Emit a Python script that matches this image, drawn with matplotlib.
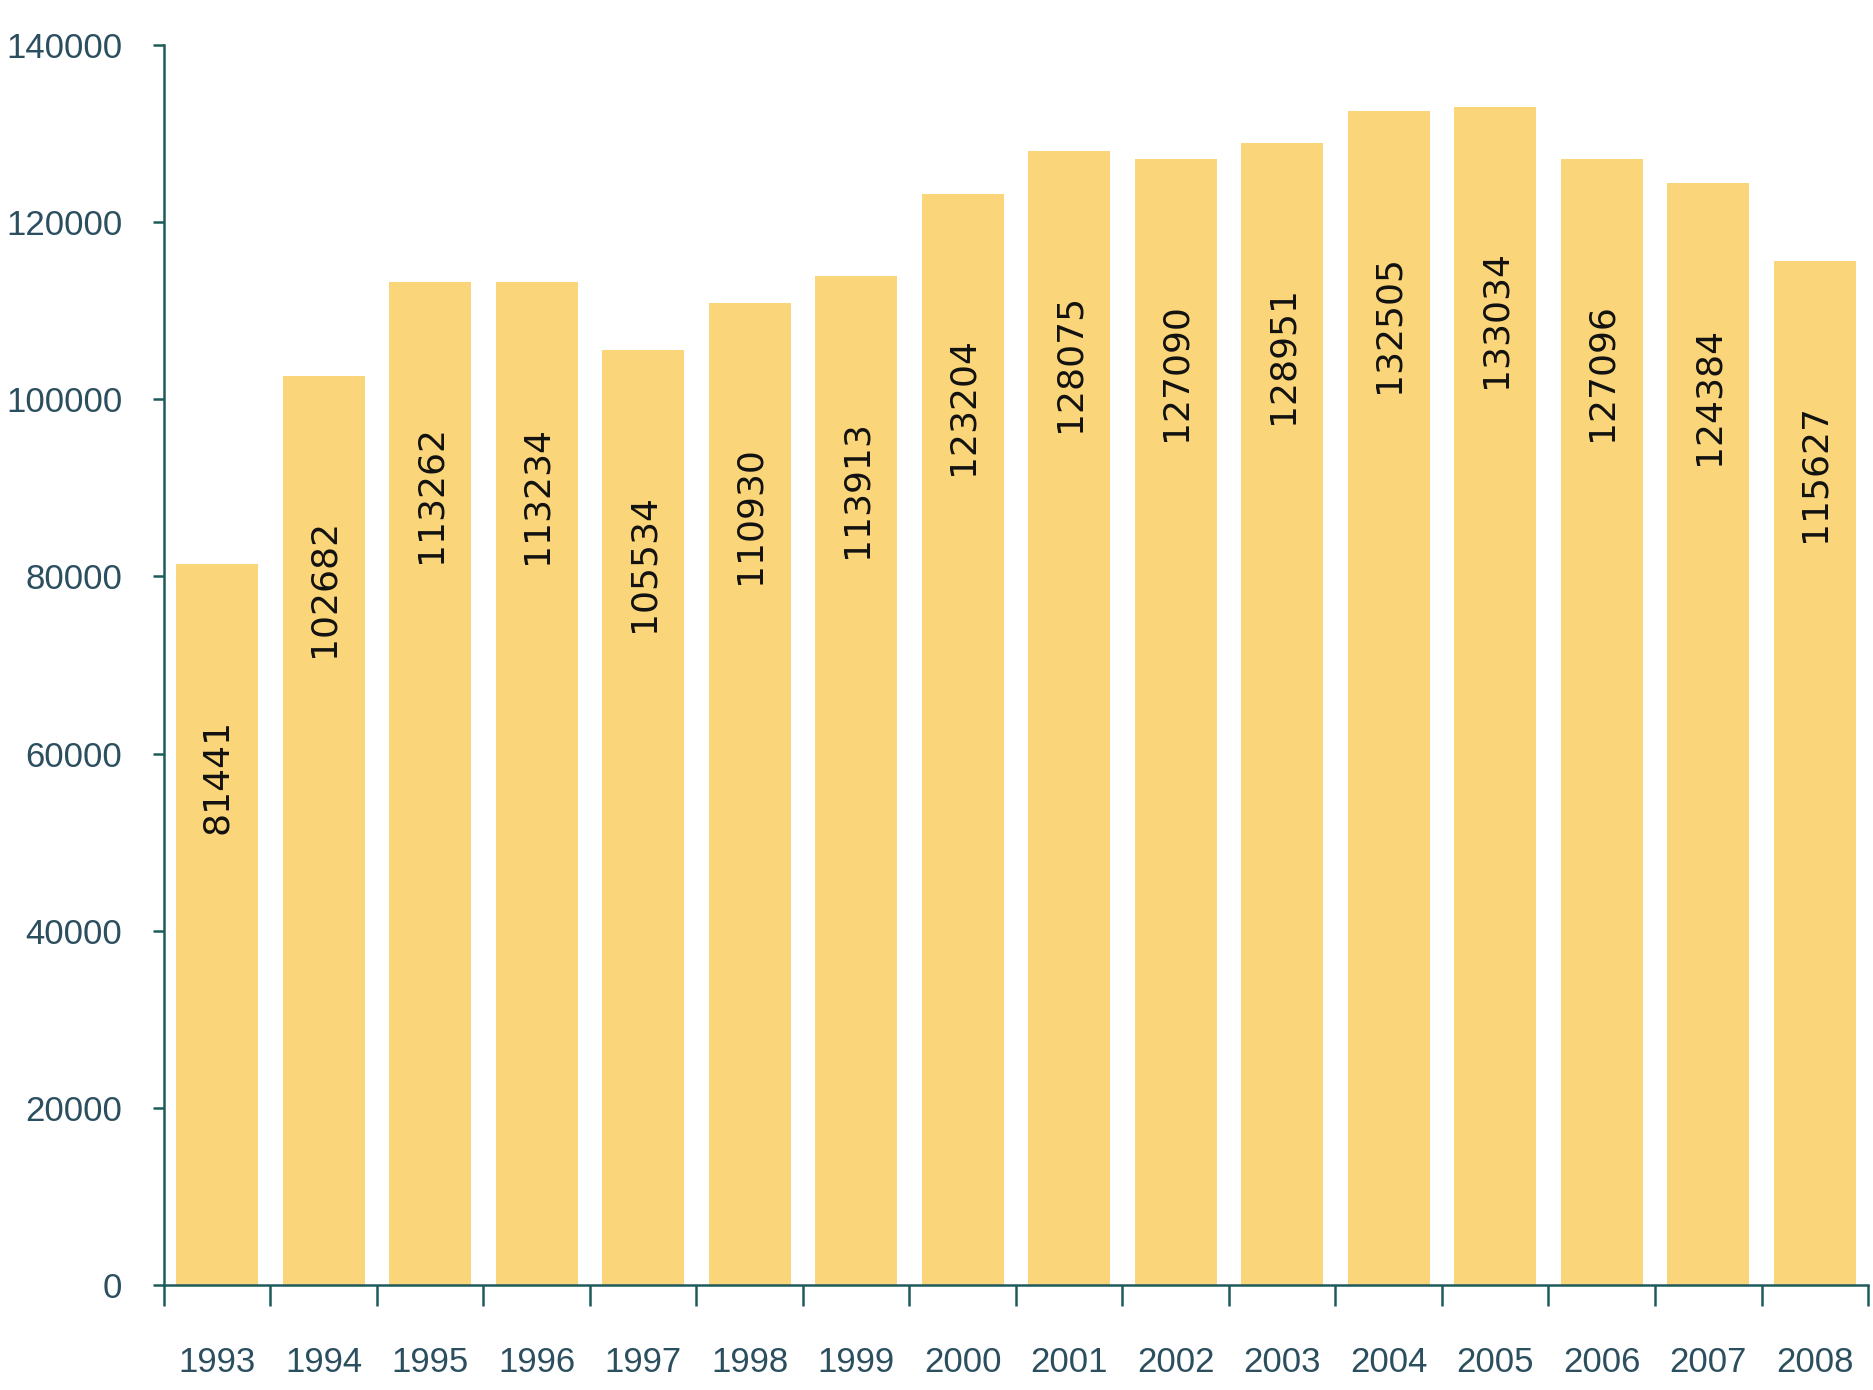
import matplotlib
matplotlib.use("Agg")
import matplotlib.pyplot as plt
import numpy as np

years = ["1993", "1994", "1995", "1996", "1997", "1998", "1999", "2000",
         "2001", "2002", "2003", "2004", "2005", "2006", "2007", "2008"]
values = [81441, 102682, 113262, 113234, 105534, 110930, 113913, 123204,
          128075, 127090, 128951, 132505, 133034, 127096, 124384, 115627]
yticks = [0, 20000, 40000, 60000, 80000, 100000, 120000, 140000]

tick_family = ["Liberation Sans", "DejaVu Sans"]
val_family = ["DejaVu Sans"]

bar_color = "#FBD57A"
axis_color = "#1E5A5C"
tick_color = "#2C4F60"

fig = plt.figure(figsize=(18.74, 13.9), dpi=100)
ax = fig.add_axes([0.0875, 0.0755, 0.9093, 0.8921])

x = np.arange(len(years))
ax.bar(x, values, width=0.77, color=bar_color, edgecolor="none", zorder=2)

for xi, v in zip(x, values):
    ax.text(xi, v - 24000, str(v), rotation=90, ha="center", va="center",
            fontsize=26, family=val_family, color="#111111", zorder=3)

ax.set_xlim(-0.5, len(years) - 0.5)
ax.set_ylim(0, 140000)

for s in ["top", "right"]:
    ax.spines[s].set_visible(False)
for s in ["left", "bottom"]:
    ax.spines[s].set_color(axis_color)
    ax.spines[s].set_linewidth(1.8)

ax.set_yticks(yticks)
ax.set_yticklabels([str(t) for t in yticks], family=tick_family, fontsize=25, color=tick_color)
ax.tick_params(axis="y", length=8, width=1.8, color=axis_color, pad=22)

ax.set_xticks(x)
ax.set_xticklabels(years, family=tick_family, fontsize=25, color=tick_color)
ax.tick_params(axis="x", which="major", length=0, pad=44)
ax.set_xticks(np.arange(-0.5, len(years)), minor=True)
ax.tick_params(axis="x", which="minor", length=15, width=1.8, color=axis_color)

fig.savefig("out.png", dpi=100, facecolor="white")
